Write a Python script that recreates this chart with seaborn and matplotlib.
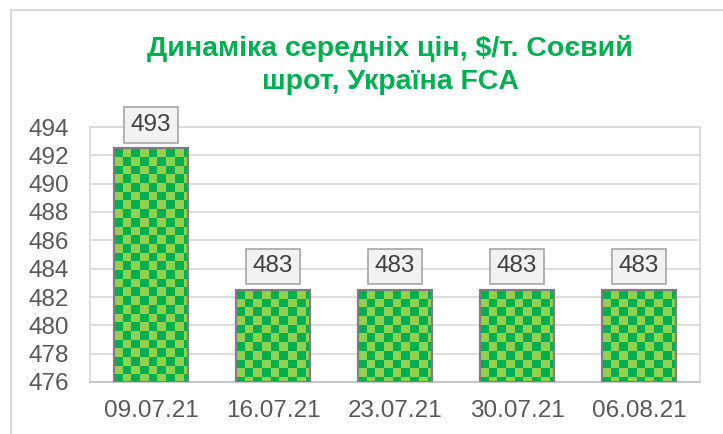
import numpy as np
import pandas as pd
import matplotlib
matplotlib.use("Agg")
import matplotlib.pyplot as plt
from matplotlib.patches import Rectangle
from matplotlib.collections import PatchCollection
import seaborn as sns

dates = ["09.07.21", "16.07.21", "23.07.21", "30.07.21", "06.08.21"]
prices = [492.5, 482.5, 482.5, 482.5, 482.5]
price_labels = ["493", "483", "483", "483", "483"]
y_ticks = [476, 478, 480, 482, 484, 486, 488, 490, 492, 494]
title = "Динаміка середніх цін, $/т. Соєвий\nшрот, Україна FCA"

sns.set_theme(style="white")
plt.rcParams["font.family"] = ["Liberation Sans", "DejaVu Sans"]

W, H = 723, 434
fig = plt.figure(figsize=(W / 100, H / 100), dpi=100)
fig.patch.set_facecolor("white")

# outer chart frame (only left/top visible)
fig.patches.append(Rectangle((11 / W, -0.5), 1.0, 0.5 + (H - 10) / H,
                             transform=fig.transFigure, fill=False,
                             edgecolor="#d9d9d9", lw=1.5, zorder=0))

ax_l, ax_r, ax_t, ax_b = 90, 700, 127, 382
ax = fig.add_axes([ax_l / W, (H - ax_b) / H, (ax_r - ax_l) / W, (ax_b - ax_t) / H])
df = pd.DataFrame({"date": dates, "price": prices})
sns.barplot(data=df, x="date", y="price", ax=ax, color="#92D050",
            saturation=1, width=0.607, edgecolor="#7f7f7f", linewidth=1.5,
            zorder=3)

ax.set_xlim(-0.5, len(dates) - 0.5)
ax.set_ylim(y_ticks[0], y_ticks[-1])
ax.set_yticks(y_ticks)
ax.set_xlabel("")
ax.set_ylabel("")
ax.yaxis.grid(True, color="#d9d9d9", lw=1.2, zorder=0)
ax.set_axisbelow(True)
for s in ax.spines.values():
    s.set_visible(True)
    s.set_color("#d9d9d9")
    s.set_linewidth(1.2)
ax.spines["bottom"].set_color("#bfbfbf")

ax.tick_params(axis="y", labelsize=17.5, colors="#595959", length=0, pad=15)
ax.tick_params(axis="x", which="major", labelsize=17.5, colors="#595959",
               length=0, pad=13)
ax.set_xticks(np.arange(-0.5, len(dates), 1.0), minor=True)
ax.tick_params(axis="x", which="minor", length=6, color="#bfbfbf", width=1.2)
for t in ax.get_yticklabels() + ax.get_xticklabels():
    t.set_color("#595959")

# checkerboard fill for each bar: dark squares over the light bar face
sq_px = 8.7
sq_x = sq_px / ((ax_r - ax_l) / len(dates))
sq_y = sq_px / ((ax_b - ax_t) / (y_ticks[-1] - y_ticks[0]))
y_floor = ax.get_ylim()[0]
for p in list(ax.patches):
    x0, w = p.get_x(), p.get_width()
    y1 = p.get_y() + p.get_height()
    y_lo = max(p.get_y(), y_floor)
    nx = int(np.ceil(w / sq_x))
    ny = int(np.ceil((y1 - y_lo) / sq_y))
    squares = []
    for i in range(ny):
        for j in range(nx):
            if (i + j) % 2 == 0:
                squares.append(Rectangle((x0 + j * sq_x, y1 - (i + 1) * sq_y),
                                         sq_x, sq_y))
    pc = PatchCollection(squares, facecolor="#00B050", edgecolor="none",
                         linewidth=0, zorder=3.5)
    ax.add_collection(pc)
    clip = Rectangle((x0, y_lo), w, y1 - y_lo, transform=ax.transData)
    pc.set_clip_path(clip)
    ax.add_patch(Rectangle((x0, y_lo), w, y1 - y_lo,
                           fill=False, edgecolor="#7f7f7f", lw=1.5, zorder=4))
ax.set_xlim(-0.5, len(dates) - 0.5)
ax.set_ylim(y_ticks[0], y_ticks[-1])

ax.bar_label(ax.containers[0], labels=price_labels, padding=9, fontsize=17.5,
             color="#404040", zorder=5,
             bbox=dict(boxstyle="square,pad=0.28", facecolor="#f2f2f2",
                       edgecolor="#a6a6a6", lw=1.2))

fig.text(390 / W, (H - 65) / H, title, ha="center", va="center",
         fontsize=20.5, fontweight="bold", color="#00B050", linespacing=1.38)

fig.savefig("out.png", dpi=100)
